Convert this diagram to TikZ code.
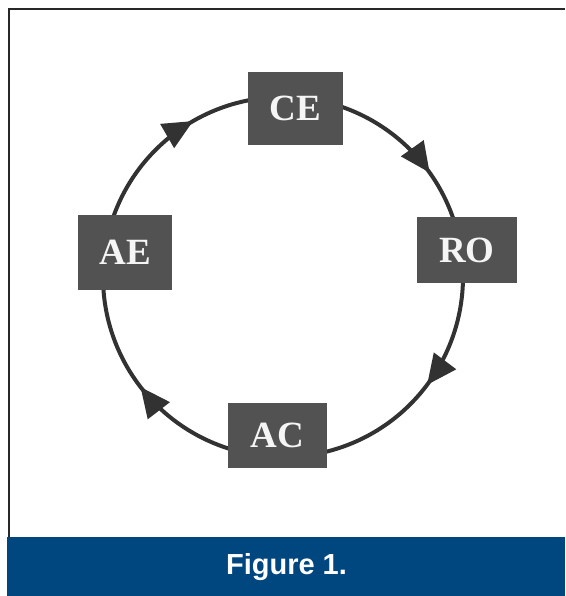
\documentclass[tikz,border=0pt]{standalone}
\usepackage{fontspec}
\setmainfont{Liberation Serif}
\newfontfamily\capfont{Liberation Sans}
\usetikzlibrary{arrows.meta,decorations.markings}
\definecolor{boxgray}{RGB}{82,82,82}
\definecolor{ringgray}{RGB}{50,50,50}
\definecolor{barblue}{RGB}{0,70,127}
\definecolor{framegray}{RGB}{40,40,40}
\tikzset{
  stage/.style={rectangle, fill=boxgray, text=white!96!black, inner sep=0pt,
    font=\fontsize{37}{37}\selectfont\bfseries},
  ring/.style={draw=ringgray, line width=4pt},
  midarrow/.style={postaction={decorate}, decoration={markings,
    mark=at position #1 with {\arrow[ringgray]{Triangle[length=30pt,width=27pt]}}}},
  frameline/.style={draw=framegray, line width=2pt}
}
\begin{document}
\begin{tikzpicture}[x=1pt,y=1pt]
\useasboundingbox (0,0) rectangle (565,596);
% frame
\coordinate (ftl) at (8.5,586.5);
\coordinate (ftr) at (565,586.5);
\coordinate (fbl) at (8.5,59);
\draw[frameline] (fbl) -- (ftl) -- (ftr);
% blue caption bar
\node[fill=barblue, minimum width=558pt, minimum height=59pt, inner sep=0pt, anchor=south west] (bar) at (7,0) {};
\node[text=white, font=\capfont\fontsize{29}{29}\selectfont\bfseries] (cap) at (286.5,28.5) {Figure 1.};
% ring arcs (clockwise)
\coordinate (c) at (283,319);
\draw[ring, midarrow=0.6]  (c) ++(171.2:180) arc[start angle=171.2, end angle=85.8, radius=180];
\draw[ring, midarrow=0.65] (c) ++(85.8:180)  arc[start angle=85.8,  end angle=8.3,  radius=180];
\draw[ring, midarrow=0.45] (c) ++(8.3:180)   arc[start angle=8.3,   end angle=-92,  radius=180];
\draw[ring, midarrow=0.52] (c) ++(-92:180)   arc[start angle=-92,   end angle=-188.8, radius=180];
% stages
\node[stage, minimum width=95pt, minimum height=73pt] (ce) at (295.5,487.5) {CE};
\node[stage, minimum width=100pt, minimum height=66pt] (ro) at (467,346) {RO};
\node[stage, minimum width=99pt, minimum height=65pt] (ac) at (277.5,160.5) {AC};
\node[stage, minimum width=94pt, minimum height=75pt] (ae) at (125,343.5) {AE};
\end{tikzpicture}
\end{document}
